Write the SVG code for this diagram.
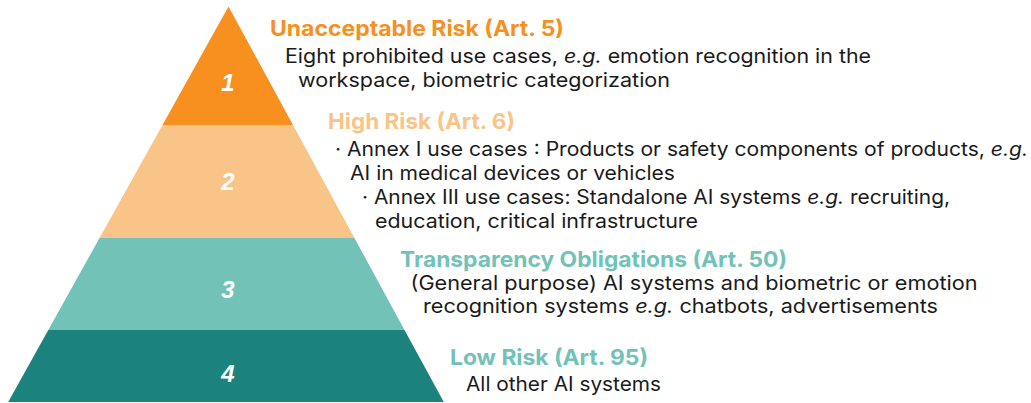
<svg xmlns="http://www.w3.org/2000/svg" width="1031" height="403" viewBox="0 0 1031 403">
<style>
.num{font-family:"Liberation Sans",Arial,sans-serif;font-weight:bold;font-style:italic;font-size:24px;fill:#ffffff;text-anchor:middle}
.title{font-family:Inter,"Open Sans",sans-serif;font-weight:700;font-size:21.5px}
.body{font-family:Inter,"Open Sans",sans-serif;font-size:19.5px;fill:#1a1a1a}
.it{font-style:italic}
</style>
<rect width="1031" height="403" fill="#ffffff"/>
<g id="tier1">
<polygon points="228.5,6.5 293,125 162.5,125" fill="#F7901E"/>
<text class="num" x="228" y="91">1</text>
<text class="title" x="270" y="36" fill="#F7901E" textLength="294" lengthAdjust="spacingAndGlyphs">Unacceptable Risk (Art. 5)</text>
<text class="body" x="285" y="62.5" textLength="586" lengthAdjust="spacingAndGlyphs">Eight prohibited use cases, <tspan class="it">e.g.</tspan> emotion recognition in the</text>
<text class="body" x="298" y="86.5" textLength="372" lengthAdjust="spacingAndGlyphs">workspace, biometric categorization</text>
</g>
<g id="tier2">
<polygon points="162.5,125 293,125 354.3,237.7 99.7,237.7" fill="#F9C487"/>
<text class="num" x="228" y="190">2</text>
<text class="title" x="328" y="128.5" fill="#F9C487" textLength="187" lengthAdjust="spacingAndGlyphs">High Risk (Art. 6)</text>
<text class="body" x="335" y="156" textLength="693" lengthAdjust="spacingAndGlyphs">· Annex I use cases : Products or safety components of products, <tspan class="it">e.g.</tspan></text>
<text class="body" x="350" y="179.5" textLength="325" lengthAdjust="spacingAndGlyphs">AI in medical devices or vehicles</text>
<text class="body" x="362" y="203.5" textLength="588" lengthAdjust="spacingAndGlyphs">· Annex III use cases: Standalone AI systems <tspan class="it">e.g.</tspan> recruiting,</text>
<text class="body" x="375" y="228" textLength="323" lengthAdjust="spacingAndGlyphs">education, critical infrastructure</text>
</g>
<g id="tier3">
<polygon points="99.7,237.7 354.3,237.7 404.5,330 48.3,330" fill="#72C2B8"/>
<text class="num" x="228" y="298">3</text>
<text class="title" x="400" y="266.5" fill="#72C2B8" textLength="387" lengthAdjust="spacingAndGlyphs">Transparency Obligations (Art. 50)</text>
<text class="body" x="410.5" y="290" textLength="567" lengthAdjust="spacingAndGlyphs">(General purpose) AI systems and biometric or emotion</text>
<text class="body" x="423" y="313" textLength="515" lengthAdjust="spacingAndGlyphs">recognition systems <tspan class="it">e.g.</tspan> chatbots, advertisements</text>
</g>
<g id="tier4">
<polygon points="48.3,330 404.5,330 443.8,402 8.2,402" fill="#1C827D"/>
<text class="num" x="228" y="382">4</text>
<text class="title" x="450" y="365" fill="#72C2B8" textLength="198" lengthAdjust="spacingAndGlyphs">Low Risk (Art. 95)</text>
<text class="body" x="466" y="390.5" textLength="195" lengthAdjust="spacingAndGlyphs">All other AI systems</text>
</g>
<g id="connectors"></g>
</svg>
